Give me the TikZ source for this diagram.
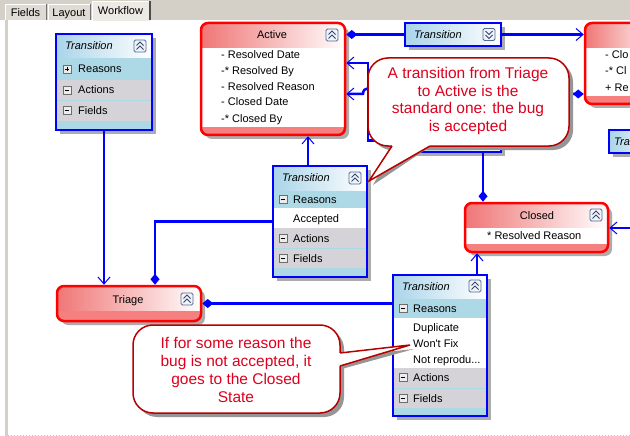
\documentclass[tikz,border=0pt]{standalone}
\usepackage{fontspec}
\newfontfamily\uifont{Liberation Sans}
\newfontfamily\calfont{Liberation Sans}
\usetikzlibrary{arrows.meta}
\definecolor{tabgray}{RGB}{212,208,200}
\definecolor{tabface}{RGB}{222,219,212}
\definecolor{tabsel}{RGB}{236,234,229}
\definecolor{wfblue}{RGB}{0,0,255}
\definecolor{wfred}{RGB}{255,0,0}
\definecolor{hdrred}{RGB}{240,118,118}
\definecolor{stripred}{RGB}{246,128,128}
\definecolor{rowblue}{RGB}{173,216,230}
\definecolor{rowgray}{RGB}{214,211,216}
\definecolor{hdrblue}{RGB}{170,212,234}
\definecolor{btnborder}{RGB}{84,108,150}
\definecolor{btnfill}{RGB}{240,244,250}
\definecolor{btnmark}{RGB}{50,70,110}
\definecolor{pmborder}{RGB}{110,110,110}
\definecolor{pmfill}{RGB}{236,236,236}
\definecolor{shadowgray}{RGB}{172,172,172}
\definecolor{calred}{RGB}{222,0,30}
\definecolor{calborder}{RGB}{185,0,0}
\definecolor{calshadow}{RGB}{150,150,150}

\tikzset{
  conn/.style={draw=wfblue, line width=2.5pt},
  toarr/.style={-{Straight Barb[length=7pt,width=12pt,line width=1pt]}},
  fromdia/.style={{Diamond[length=11pt,width=9pt]}-},
  diatoarr/.style={{Diamond[length=11pt,width=9pt]}-{Straight Barb[length=7pt,width=12pt,line width=1pt]}},
  statebox/.style={draw=wfred, line width=2.5pt, rounded corners=7pt, inner sep=0},
  transbox/.style={draw=wfblue, line width=2.5pt, inner sep=0},
  ui/.style={font=\uifont\fontsize{11}{13}\selectfont, text=black, inner sep=0, text height=8pt, text depth=0pt},
  uiit/.style={font=\uifont\itshape\fontsize{11}{13}\selectfont, text=black, inner sep=0, text height=8pt, text depth=0pt},
  caltext/.style={font=\calfont\fontsize{15.5}{17.8}\selectfont, text=calred, align=center, inner sep=0},
  callout/.style={fill=white, draw=calborder, line width=1.5pt, rounded corners=20pt},
}

\newcommand\wfbtn[3]{%
  \filldraw[draw=btnborder, fill=btnfill, rounded corners=1.5pt, line width=0.8pt] ({#1-6},{#2-6}) rectangle ({#1+6},{#2+6});
  \draw[btnmark, line width=0.9pt] ({#1-3.5},{#2-0.5*(#3)}) -- (#1,{#2-4*(#3)}) -- ({#1+3.5},{#2-0.5*(#3)});
  \draw[btnmark, line width=0.9pt] ({#1-3.5},{#2+3.5*(#3)}) -- (#1,#2) -- ({#1+3.5},{#2+3.5*(#3)});
}
\newcommand\wfpm[3]{%
  \filldraw[draw=pmborder, fill=pmfill, line width=0.6pt] ({#1-4},{#2-4}) rectangle ({#1+4},{#2+4});
  \draw[black, line width=0.8pt] ({#1-2.2},#2) -- ({#1+2.2},#2);
  \ifnum#3=1 \draw[black, line width=0.8pt] (#1,{#2-2.2}) -- (#1,{#2+2.2});\fi
}
\newcommand\wfstate[7]{%
  \fill[shadowgray, rounded corners=7pt] ({#2+4},{#3+4}) rectangle ({#4+4},{#5+4});
  \begin{scope}
    \clip[rounded corners=7pt] (#2,#3) rectangle (#4,#5);
    \fill[white] (#2,#3) rectangle (#4,#5);
    \shade[left color=hdrred, right color=white] (#2,#3) rectangle (#4,#6);
    \fill[stripred] (#2,#7) rectangle (#4,#5);
  \end{scope}
  \pgfmathsetmacro\wfw{#4-#2}\pgfmathsetmacro\wfh{#5-#3}
  \node[statebox, minimum width=\wfw pt, minimum height=\wfh pt] (#1) at ({(#2+#4)/2},{(#3+#5)/2}) {};
}
\newcommand\wftrans[7]{%
  \fill[shadowgray] ({#2+4},{#3+4}) rectangle ({#4+4},{#5+4});
  \fill[rowblue] (#2,#3) rectangle (#4,#5);
  \shade[left color=hdrblue, right color=white] (#2,#3) rectangle (#4,#6);
  #7
  \pgfmathsetmacro\wfw{#4-#2}\pgfmathsetmacro\wfh{#5-#3}
  \node[transbox, minimum width=\wfw pt, minimum height=\wfh pt] (#1) at ({(#2+#4)/2},{(#3+#5)/2}) {};
}

\begin{document}
\begin{tikzpicture}[x=1pt,y=-1pt]
\useasboundingbox (0,0) rectangle (630,436);
\clip (0,0) rectangle (630,436);
% ---------- background and tabs
\fill[white] (0,0) rectangle (630,436);
\fill[tabgray] (0,0) rectangle (630,20);
\fill[tabgray] (5,20) rectangle (8,436);
\draw[gray!45, line width=1pt, dotted] (8,435) -- (630,435);
\fill[tabface] (5,4) rectangle (46,20);
\draw[white, line width=1pt] (5.5,20) -- (5.5,4.5) -- (45.5,4.5);
\draw[black!55, line width=1pt] (46,4.5) -- (46,20);
\node[ui] (tabfields) at (25.5,12.5) {Fields};
\fill[tabface] (48,4) rectangle (90,20);
\draw[white, line width=1pt] (48.5,20) -- (48.5,4.5) -- (89.5,4.5);
\draw[black!55, line width=1pt] (90,4.5) -- (90,20);
\node[ui] (tablayout) at (69,12.5) {Layout};
\fill[tabsel] (92,1) rectangle (150,21);
\draw[white, line width=1pt] (92.5,21) -- (92.5,1.5) -- (149.5,1.5);
\draw[black!70, line width=1.2pt] (150,1.5) -- (150,20);
\node[ui] (tabworkflow) at (120.5,10.5) {Workflow};

% ---------- states
\wfstate{act}{201}{23}{345}{135}{48}{127}
\node[ui] (acttitle) at (272,35) {Active};
\wfbtn{332}{35}{1}
\node[ui, anchor=west] (a1) at (221,55) {- Resolved Date};
\node[ui, anchor=west] (a2) at (221,71) {-* Resolved By};
\node[ui, anchor=west] (a3) at (221,87) {- Resolved Reason};
\node[ui, anchor=west] (a4) at (221,102) {- Closed Date};
\node[ui, anchor=west] (a5) at (221,118) {-* Closed By};

\wfstate{rs}{585}{23}{660}{104}{48}{96}
\node[ui, anchor=west] (r1) at (605,55) {- Clo};
\node[ui, anchor=west] (r2) at (605,71) {-* Cl};
\node[ui, anchor=west] (r3) at (605,88) {+ Re};

\wfstate{closed}{465}{203}{608}{252}{227}{244}
\node[ui] (closedtitle) at (537,215) {Closed};
\wfbtn{596}{215}{1}
\node[ui, anchor=west] (c1) at (487,235) {* Resolved Reason};

\wfstate{triage}{57}{286}{201}{321}{311}{311}
\node[ui] (triagetitle) at (128,299) {Triage};
\wfbtn{187}{299}{1}

% ---------- transitions
\wftrans{t1}{56}{34}{152}{130}{58}{%
  \fill[rowgray] (56,80) rectangle (152,100);
  \fill[rowgray] (56,101) rectangle (152,121);}
\node[uiit, anchor=west] (t1h) at (65,46) {Transition};
\wfbtn{140}{46}{1}
\wfpm{67}{69}{1}\node[ui, anchor=west] (t1r) at (78,69) {Reasons};
\wfpm{67}{90}{0}\node[ui, anchor=west] (t1a) at (78,90) {Actions};
\wfpm{67}{110}{0}\node[ui, anchor=west] (t1f) at (78,110) {Fields};

\wftrans{t2}{405}{23}{501}{46}{46}{}
\node[uiit, anchor=west] (t2h) at (414,34.5) {Transition};
\wfbtn{489}{34.5}{-1}

\wftrans{t5}{405}{129}{501}{152}{152}{}
\wfbtn{489}{140.5}{1}

\wftrans{t6}{609}{130}{660}{153}{153}{}
\node[uiit, anchor=west] (t6h) at (614,141.5) {Tra};

\wftrans{t3}{273}{166}{367}{277}{190}{%
  \fill[white] (273,208) rectangle (367,228);
  \fill[rowgray] (273,228) rectangle (367,248);
  \fill[rowgray] (273,249) rectangle (367,268);}
\node[uiit, anchor=west] (t3h) at (282,178) {Transition};
\wfbtn{355}{178}{1}
\wfpm{283}{199}{0}\node[ui, anchor=west] (t3r) at (293,199) {Reasons};
\node[ui, anchor=west] (t3acc) at (293,218) {Accepted};
\wfpm{283}{238}{0}\node[ui, anchor=west] (t3a) at (293,238) {Actions};
\wfpm{283}{258}{0}\node[ui, anchor=west] (t3f) at (293,258) {Fields};

\wftrans{t4}{393}{275}{487}{416}{298}{%
  \fill[white] (393,318) rectangle (487,368);
  \fill[rowgray] (393,368) rectangle (487,388);
  \fill[rowgray] (393,389) rectangle (487,408);}
\node[uiit, anchor=west] (t4h) at (402,286) {Transition};
\wfbtn{475}{286}{1}
\wfpm{403}{308}{0}\node[ui, anchor=west] (t4r) at (413,308) {Reasons};
\node[ui, anchor=west] (t4d) at (413,327) {Duplicate};
\node[ui, anchor=west] (t4w) at (413,343) {Won't Fix};
\node[ui, anchor=west] (t4n) at (413,359) {Not reprodu...};
\wfpm{403}{377}{0}\node[ui, anchor=west] (t4a) at (413,377) {Actions};
\wfpm{403}{398}{0}\node[ui, anchor=west] (t4f) at (413,398) {Fields};

% ---------- connectors
\coordinate (offright) at (640,228);
\draw[conn, toarr] (t1.south) -- (t1.south |- triage.north);
\draw[conn, fromdia] (triage.north -| 155,0) |- (t3.west);
\draw[conn, toarr] (t3.north -| 308,0) -- (act.south -| 308,0);
\draw[conn, fromdia] (act.east |- t2.west) -- (t2.west);
\draw[conn, toarr] (t2.east) -- (rs.west |- t2.east);
\draw[conn, toarr] (t5.west) -| (368,63) -- (act.east |- 0,63);
\draw[conn, diatoarr] (rs.west |- 0,94) -- (372.5,94) .. controls (372.5,86.5) and (363,86.5) .. (363,94) -- (act.east |- 0,94);
\draw[conn, fromdia] (closed.north -| 483,0) -- (t5.south -| 483,0);
\draw[conn, fromdia] (triage.east) -- (t4.west |- triage.east);
\draw[conn, toarr] (t4.north -| 477,0) -- (closed.south -| 477,0);
\draw[conn, toarr] (offright) -- (closed.east |- offright);

% ---------- callout 1
\begin{scope}[shift={(4,4)}]
  \fill[calshadow, rounded corners=20pt] (368,58) rectangle (569,146);
  \fill[calshadow] (392,140) -- (369,181) -- (430,140) -- cycle;
\end{scope}
\draw[callout] (368,58) rectangle (569,146);
\fill[white] (392,142) -- (392,146) -- (369,181) -- (430,146) -- (430,142) -- cycle;
\draw[calborder, line width=1.5pt] (392,146) -- (369,181) -- (430,146);
\node[caltext] (note1) at (468,101) {A transition from Triage\\to Active is the\\standard one: the bug\\is accepted};

% ---------- callout 2
\begin{scope}[shift={(4,4)}]
  \fill[calshadow, rounded corners=20pt] (133,325) rectangle (340,413);
  \fill[calshadow] (334,353) -- (410,345) -- (334,366) -- cycle;
\end{scope}
\draw[callout] (133,325) rectangle (340,413);
\fill[white] (336,353) -- (340,353) -- (410,345) -- (340,366) -- (336,366) -- cycle;
\draw[calborder, line width=1.5pt] (340,353) -- (410,345) -- (340,366);
\node[caltext] (note2) at (236,370) {If for some reason the\\bug is not accepted, it\\goes to the Closed\\State};
\end{tikzpicture}
\end{document}
